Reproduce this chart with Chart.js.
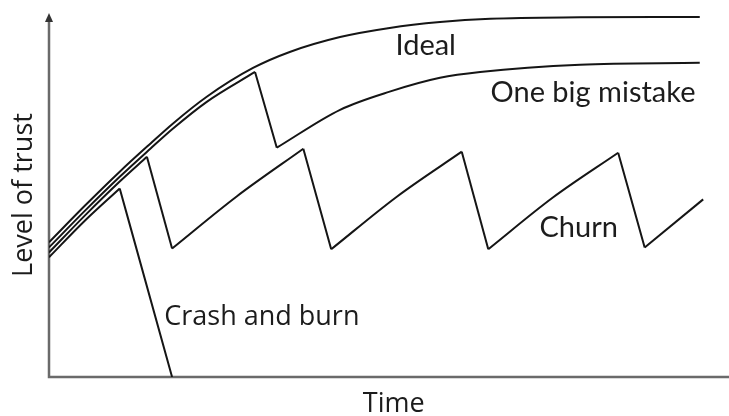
<!DOCTYPE html>
<html lang="en">

<head>
    <meta charset="UTF-8">
    <title>Level of trust</title>
    <script src="https://cdn.jsdelivr.net/npm/chart.js"></script>
    <style>
        html, body { margin: 0; padding: 0; background: #fff; }
    </style>
</head>

<body>
    <canvas id="myChart" width="729" height="416"></canvas>
    <script>
        /* Valores: tiempo 0-100, confianza 0-100 */
        const idealX = [0, 5.3, 10.4, 14.9, 18.2, 23.2, 30.0, 35.4, 42.8, 50.1, 57.5, 64.9, 78.1, 95.7];
        const idealY = [37.0, 47.1, 56.4, 64.1, 69.6, 77.0, 84.9, 89.3, 93.4, 95.9, 97.5, 98.4, 98.8, 98.9];

        const errorX = [0, 5.3, 10.4, 14.9, 18.2, 23.2, 30.3, 33.5, 42.8, 50.1, 57.5, 63.4, 78.1, 95.7];
        const errorY = [35.6, 45.7, 55.0, 62.7, 68.2, 75.6, 83.8, 63.0, 73.4, 78.4, 82.2, 83.8, 85.8, 86.3];

        const churnX = [0, 5.3, 10.4, 14.4, 18.1, 27.6, 37.4, 41.5, 51.2, 60.7, 64.6, 74.1, 83.7, 87.6, 96.2];
        const churnY = [34.2, 44.4, 53.7, 60.5, 35.3, 49.6, 62.7, 35.1, 49.6, 61.9, 35.1, 49.3, 61.6, 35.6, 48.8];

        const crashX = [0, 5.3, 10.4, 18.1];
        const crashY = [32.9, 43.0, 51.8, 0];

        // textos dentro del grafico (centro x, linea base y)
        const etiquetas = [
            { texto: 'Ideal', x: 55.4, y: 88.5, fuente: 'Lato' },
            { texto: 'One big mistake', x: 80.0, y: 75.5, fuente: 'Lato' },
            { texto: 'Churn', x: 77.9, y: 38.5, fuente: 'Lato' },
            { texto: 'Crash and burn', x: 31.3, y: 14.3, fuente: 'Open Sans' }
        ];
        const tituloX = 'Time';
        const tituloY = 'Level of trust';

        /* Corta una serie en tramos en cada pico o valle para que las esquinas queden rectas */
        function tramos(xs, ys) {
            const salida = [];
            let actual = [{ x: xs[0], y: ys[0] }];
            for (let i = 1; i < xs.length; i++) {
                actual.push({ x: xs[i], y: ys[i] });
                const sube = ys[i] > ys[i - 1];
                if (i + 1 < xs.length && (ys[i + 1] > ys[i]) !== sube) {
                    salida.push(actual);
                    actual = [{ x: xs[i], y: ys[i] }];
                }
            }
            salida.push(actual);
            return salida;
        }

        const series = [[idealX, idealY], [errorX, errorY], [churnX, churnY], [crashX, crashY]];
        const datasets = [];
        series.forEach(([xs, ys]) => {
            tramos(xs, ys).forEach((t) => {
                datasets.push({
                    data: t,
                    borderColor: '#151515',
                    borderWidth: 2,
                    pointRadius: 0,
                    fill: false,
                    cubicInterpolationMode: 'monotone'
                });
            });
        });

        // ejes con flecha y textos
        const ejesYTextos = {
            id: 'ejesYTextos',
            beforeDatasetsDraw(chart) {
                const { ctx, chartArea: a } = chart;
                ctx.save();
                ctx.strokeStyle = '#6a6a6a';
                ctx.lineWidth = 2.5;
                ctx.beginPath();
                ctx.moveTo(a.left, a.top + 6);
                ctx.lineTo(a.left, a.bottom);
                ctx.lineTo(a.right, a.bottom);
                ctx.stroke();
                ctx.fillStyle = '#333';
                ctx.beginPath();
                ctx.moveTo(a.left, a.top);
                ctx.lineTo(a.left - 4, a.top + 9);
                ctx.lineTo(a.left + 4, a.top + 9);
                ctx.closePath();
                ctx.fill();
                ctx.restore();
            },
            afterDatasetsDraw(chart) {
                const { ctx, chartArea: a, scales: { x, y } } = chart;
                ctx.save();
                ctx.fillStyle = '#1c1c1c';
                ctx.textAlign = 'center';
                ctx.textBaseline = 'alphabetic';
                etiquetas.forEach((e) => {
                    ctx.font = (e.fuente === 'Lato' ? '29px ' : '27px ') + '"' + e.fuente + '"';
                    ctx.fillText(e.texto, x.getPixelForValue(e.x), y.getPixelForValue(e.y));
                });
                ctx.font = '27px "Open Sans"';
                ctx.fillText(tituloX, x.getPixelForValue(50.7), a.bottom + 35);
                ctx.translate(a.left - 25, y.getPixelForValue(50));
                ctx.rotate(-Math.PI / 2);
                ctx.textBaseline = 'middle';
                ctx.fillText(tituloY, 0, 0);
                ctx.restore();
            }
        };

        const config = {
            type: 'line',
            data: { datasets: datasets },
            options: {
                responsive: false,
                animation: false,
                devicePixelRatio: 1,
                layout: { padding: { left: 49, right: 0, top: 13, bottom: 39 } },
                scales: {
                    x: { type: 'linear', min: 0, max: 100, display: false },
                    y: { type: 'linear', min: 0, max: 100, display: false }
                },
                plugins: { legend: { display: false }, tooltip: { enabled: false } }
            },
            plugins: [ejesYTextos]
        };

        new Chart(document.getElementById('myChart'), config);
    </script>
</body>

</html>
